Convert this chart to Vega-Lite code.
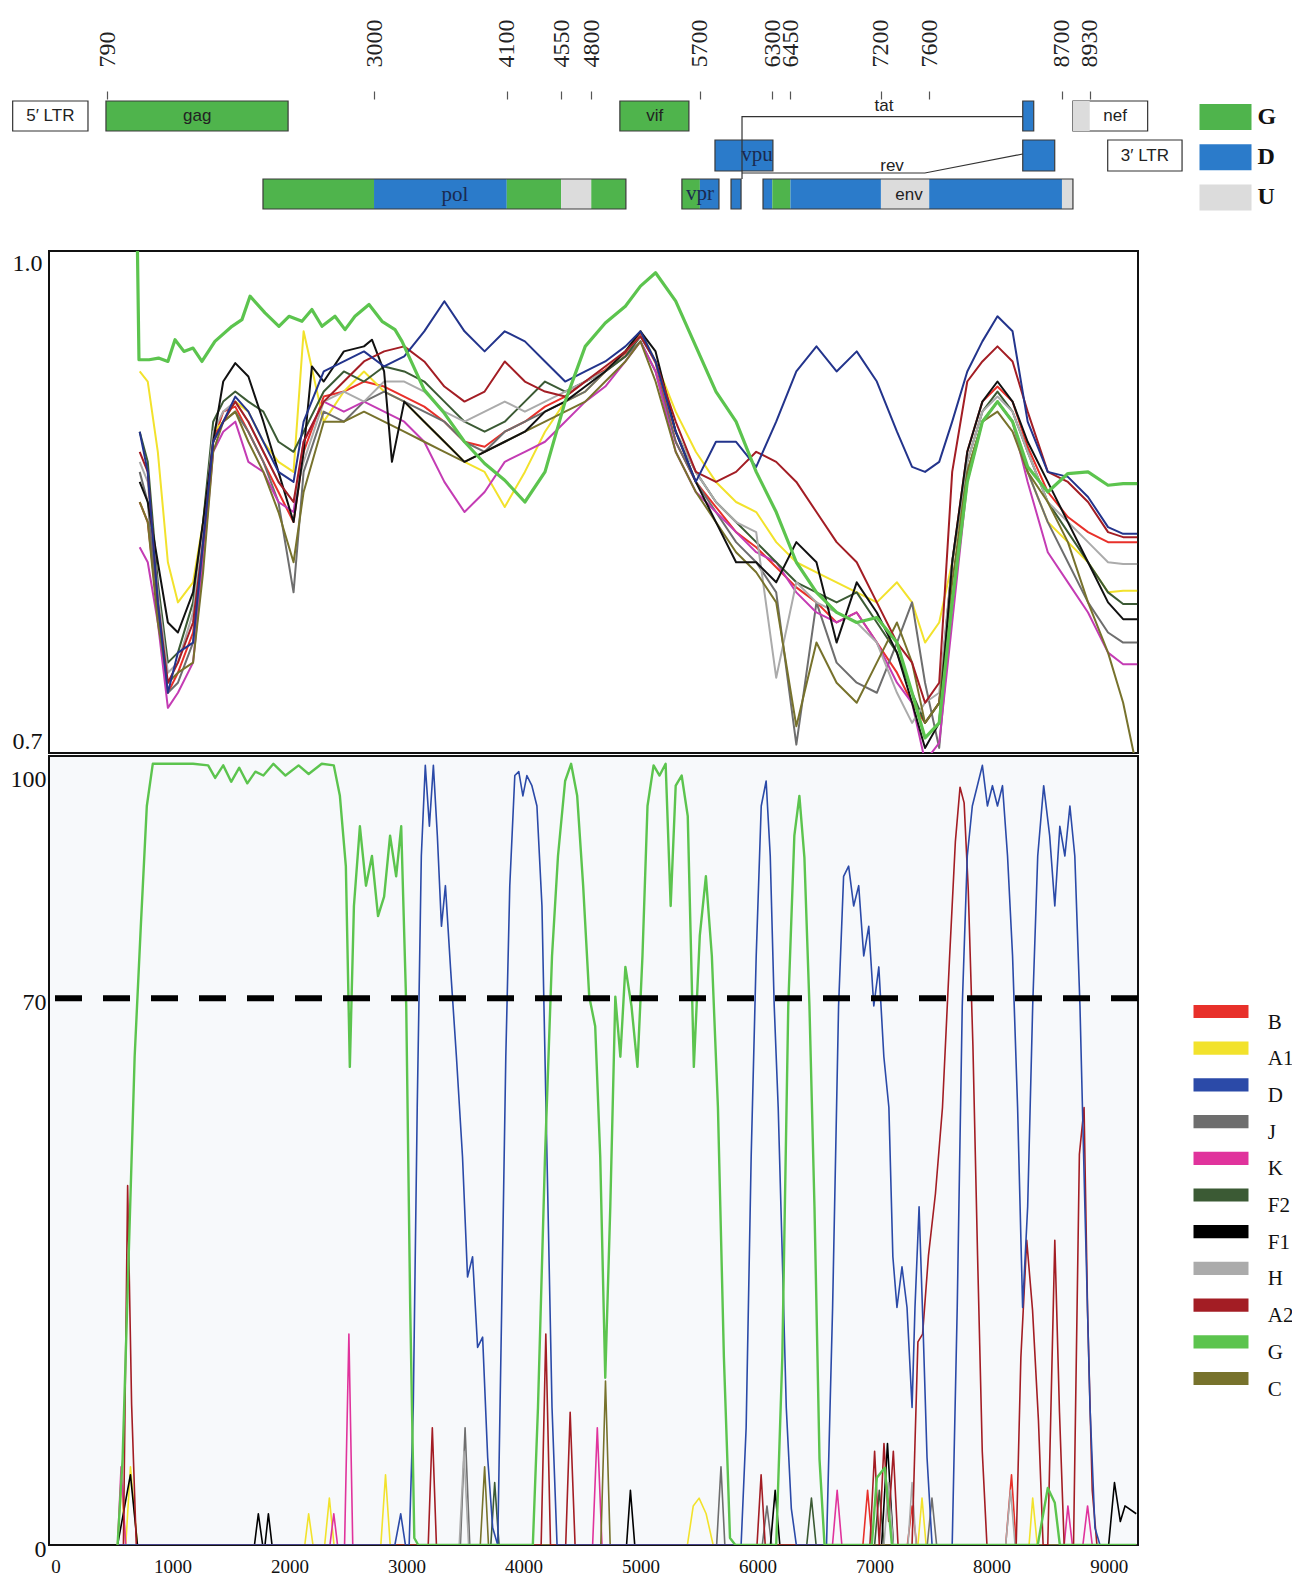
{
"$schema": "https://vega.github.io/schema/vega-lite/v6.json",
"background": "white",
"padding": {"left": 9, "top": 19, "right": 0, "bottom": 0},
"spacing": 0,
"config": {"view": {"stroke": null}, "font": "Liberation Serif", "axis": {"grid": false}},
"resolve": {"scale": {"color": "independent", "fill": "independent"}},
"vconcat": [
{
 "width": 1089, "height": 150,
 "encoding": {
  "x": {"field": "s", "type": "quantitative", "scale": {"domain": [307, 9330], "nice": false, "zero": false},
        "axis": {"orient": "top", "values": [790, 3000, 4100, 4550, 4800, 5700, 6300, 6450, 7200, 7600, 8700, 8930], "format": "d", "labelAngle": 270, "labelAlign": "left", "labelBaseline": "middle", "labelFont": "Liberation Serif", "labelFontSize": 24, "labelColor": "#222", "tickSize": 8, "tickColor": "#555", "tickWidth": 1.2, "domain": false, "labelPadding": 24, "labelOverlap": false, "labelFlush": false, "title": null}},
  "y": {"field": "y0", "type": "quantitative", "scale": {"domain": [0, 150], "reverse": true, "nice": false, "zero": false}, "axis": null}
 },
 "layer": [
  {"data": {"values": [{"s": 6, "e": 630, "y0": 2, "y1": 32}, {"s": 8791, "e": 9410, "y0": 2, "y1": 32}, {"s": 9079, "e": 9695, "y0": 41, "y1": 72}]},
   "mark": {"type": "rect", "fill": "white", "stroke": "#333", "strokeWidth": 1.2},
   "encoding": {"x2": {"field": "e"}, "y2": {"field": "y1"}}},
  {"data": {"values": [
    {"gene": "gag", "seg": "G", "s": 779, "e": 2288, "y0": 2, "y1": 32},
    {"gene": "vif", "seg": "G", "s": 5037, "e": 5609, "y0": 2, "y1": 32},
    {"gene": "tat", "seg": "D", "s": 8375, "e": 8466, "y0": 2, "y1": 32},
    {"gene": "nef", "seg": "U", "s": 8791, "e": 8930, "y0": 2, "y1": 32},
    {"gene": "vpu", "seg": "D", "s": 5825, "e": 6305, "y0": 41, "y1": 72},
    {"gene": "rev", "seg": "D", "s": 8375, "e": 8640, "y0": 41, "y1": 72},
    {"gene": "pol", "seg": "G", "s": 2080, "e": 3000, "y0": 80, "y1": 110},
    {"gene": "pol", "seg": "D", "s": 3000, "e": 4100, "y0": 80, "y1": 110},
    {"gene": "pol", "seg": "G", "s": 4100, "e": 4550, "y0": 80, "y1": 110},
    {"gene": "pol", "seg": "U", "s": 4550, "e": 4800, "y0": 80, "y1": 110},
    {"gene": "pol", "seg": "G", "s": 4800, "e": 5087, "y0": 80, "y1": 110},
    {"gene": "vpr", "seg": "G", "s": 5551, "e": 5700, "y0": 80, "y1": 110},
    {"gene": "vpr", "seg": "D", "s": 5700, "e": 5858, "y0": 80, "y1": 110},
    {"gene": "tat/rev", "seg": "D", "s": 5958, "e": 6041, "y0": 80, "y1": 110},
    {"gene": "env", "seg": "D", "s": 6223, "e": 6300, "y0": 80, "y1": 110},
    {"gene": "env", "seg": "G", "s": 6300, "e": 6450, "y0": 80, "y1": 110},
    {"gene": "env", "seg": "D", "s": 6450, "e": 7200, "y0": 80, "y1": 110},
    {"gene": "env", "seg": "U", "s": 7200, "e": 7600, "y0": 80, "y1": 110},
    {"gene": "env", "seg": "D", "s": 7600, "e": 8700, "y0": 80, "y1": 110},
    {"gene": "env", "seg": "U", "s": 8700, "e": 8791, "y0": 80, "y1": 110}
   ]},
   "mark": {"type": "rect"},
   "encoding": {"x2": {"field": "e"}, "y2": {"field": "y1"},
    "fill": {"field": "seg", "type": "nominal", "scale": {"domain": ["G", "D", "U"], "range": ["#4fb44c", "#2b7bca", "#dcdcdc"]},
      "legend": {"orient": "none", "legendX": 1150.5, "legendY": -8, "direction": "vertical", "title": null, "symbolType": "M-1,-0.5H1V0.5H-1Z", "symbolSize": 2704, "symbolStrokeWidth": 0, "labelFont": "Liberation Serif", "labelFontWeight": "bold", "labelFontSize": 24, "labelColor": "#111", "labelOffset": 6, "rowPadding": 1.2}}}},
  {"data": {"values": [
    {"s": 779, "e": 2288, "y0": 2, "y1": 32}, {"s": 5037, "e": 5609, "y0": 2, "y1": 32}, {"s": 8375, "e": 8466, "y0": 2, "y1": 32},
    {"s": 5825, "e": 6305, "y0": 41, "y1": 72}, {"s": 8375, "e": 8640, "y0": 41, "y1": 72},
    {"s": 2080, "e": 5087, "y0": 80, "y1": 110}, {"s": 5551, "e": 5858, "y0": 80, "y1": 110}, {"s": 5958, "e": 6041, "y0": 80, "y1": 110}, {"s": 6223, "e": 8791, "y0": 80, "y1": 110}
   ]},
   "mark": {"type": "rect", "filled": false, "stroke": "#3a3a3a", "strokeWidth": 1.2},
   "encoding": {"x2": {"field": "e"}, "y2": {"field": "y1"}}},
  {"data": {"values": [
    {"k": "tat", "o": 1, "s": 6049, "y0": 80}, {"k": "tat", "o": 2, "s": 6049, "y0": 17.7}, {"k": "tat", "o": 3, "s": 8375, "y0": 17.7},
    {"k": "rev", "o": 1, "s": 6049, "y0": 74}, {"k": "rev", "o": 2, "s": 7564, "y0": 74}, {"k": "rev", "o": 3, "s": 8375, "y0": 55}
   ]},
   "mark": {"type": "line", "color": "#333", "strokeWidth": 1.2},
   "encoding": {"detail": {"field": "k"}, "order": {"field": "o", "type": "quantitative"}}},
  {"data": {"values": [
    {"t": "gag", "s": 1535, "y0": 17}, {"t": "vif", "s": 5325, "y0": 17}, {"t": "nef", "s": 9140, "y0": 17},
    {"t": "5′ LTR", "s": 318, "y0": 17}, {"t": "3′ LTR", "s": 9387, "y0": 56.5}, {"t": "tat", "s": 7226, "y0": 7},
    {"t": "rev", "s": 7292, "y0": 67}, {"t": "env", "s": 7432, "y0": 96}
   ]},
   "mark": {"type": "text", "font": "Liberation Sans", "fontSize": 17, "color": "#222", "align": "center", "baseline": "middle"},
   "encoding": {"text": {"field": "t"}}},
  {"data": {"values": [{"t": "pol", "s": 3670, "y0": 96}, {"t": "vpu", "s": 6173, "y0": 56}, {"t": "vpr", "s": 5700, "y0": 95}]},
   "mark": {"type": "text", "font": "Liberation Serif", "fontSize": 21, "color": "#1a2a50", "align": "center", "baseline": "middle"},
   "encoding": {"text": {"field": "t"}}}
 ]
},
{
 "width": 1089, "height": 502,
 "view": {"stroke": "#111", "strokeWidth": 2},
 "data": {"values": "p,t,v\n719,B,.850\n788,B,.838\n874,B,.784\n960,B,.736\n1046,B,.748\n1175,B,.772\n1261,B,.820\n1347,B,.886\n1433,B,.904\n1536,B,.907\n1648,B,.892\n1776,B,.874\n1905,B,.856\n2034,B,.838\n2120,B,.880\n2292,B,.913\n2464,B,.916\n2636,B,.922\n2808,B,.919\n2980,B,.913\n3151,B,.907\n3323,B,.898\n3495,B,.886\n3667,B,.883\n3839,B,.892\n4011,B,.898\n4183,B,.907\n4355,B,.913\n4527,B,.922\n4698,B,.929\n4870,B,.939\n4999,B,.951\n5128,B,.933\n5300,B,.886\n5472,B,.862\n5644,B,.847\n5816,B,.832\n5988,B,.823\n6159,B,.811\n6331,B,.799\n6503,B,.790\n6675,B,.778\n6847,B,.784\n7019,B,.766\n7191,B,.748\n7320,B,.730\n7431,B,.718\n7552,B,.730\n7663,B,.814\n7792,B,.880\n7921,B,.910\n8050,B,.919\n8179,B,.910\n8308,B,.883\n8480,B,.856\n8652,B,.841\n8824,B,.832\n8995,B,.826\n9124,B,.826\n9244,B,.826\n719,A1,.928\n788,A1,.922\n874,A1,.880\n960,A1,.814\n1046,A1,.790\n1175,A1,.802\n1261,A1,.838\n1347,A1,.892\n1433,A1,.898\n1536,A1,.910\n1648,A1,.904\n1776,A1,.886\n1905,A1,.874\n2034,A1,.868\n2120,A1,.952\n2292,A1,.898\n2464,A1,.916\n2636,A1,.928\n2808,A1,.916\n2980,A1,.910\n3151,A1,.898\n3323,A1,.886\n3495,A1,.874\n3667,A1,.868\n3839,A1,.847\n4011,A1,.868\n4183,A1,.892\n4355,A1,.910\n4527,A1,.916\n4698,A1,.928\n4870,A1,.940\n4999,A1,.952\n5128,A1,.934\n5300,A1,.904\n5472,A1,.880\n5644,A1,.862\n5816,A1,.850\n5988,A1,.844\n6159,A1,.826\n6331,A1,.814\n6503,A1,.808\n6675,A1,.802\n6847,A1,.796\n7019,A1,.790\n7191,A1,.802\n7320,A1,.790\n7431,A1,.766\n7552,A1,.778\n7663,A1,.814\n7792,A1,.868\n7921,A1,.898\n8050,A1,.910\n8179,A1,.898\n8308,A1,.868\n8480,A1,.838\n8652,A1,.826\n8824,A1,.814\n8995,A1,.796\n9124,A1,.797\n9244,A1,.797\n719,J,.868\n788,J,.850\n874,J,.784\n960,J,.736\n1046,J,.742\n1175,J,.766\n1261,J,.814\n1347,J,.886\n1433,J,.898\n1536,J,.904\n1648,J,.892\n1776,J,.874\n1905,J,.850\n2034,J,.796\n2120,J,.868\n2292,J,.904\n2464,J,.898\n2636,J,.910\n2808,J,.916\n2980,J,.910\n3151,J,.904\n3323,J,.898\n3495,J,.886\n3667,J,.880\n3839,J,.892\n4011,J,.898\n4183,J,.904\n4355,J,.910\n4527,J,.916\n4698,J,.928\n4870,J,.937\n4999,J,.946\n5128,J,.928\n5300,J,.886\n5472,J,.862\n5644,J,.844\n5816,J,.826\n5988,J,.814\n6159,J,.796\n6331,J,.705\n6503,J,.790\n6675,J,.754\n6847,J,.742\n7019,J,.736\n7191,J,.766\n7320,J,.790\n7431,J,.742\n7552,J,.703\n7663,J,.790\n7792,J,.868\n7921,J,.898\n8050,J,.910\n8179,J,.898\n8308,J,.868\n8480,J,.838\n8652,J,.814\n8824,J,.790\n8995,J,.772\n9124,J,.766\n9244,J,.766\n719,K,.823\n788,K,.814\n874,K,.778\n960,K,.727\n1046,K,.736\n1175,K,.754\n1261,K,.814\n1347,K,.880\n1433,K,.892\n1536,K,.898\n1648,K,.874\n1776,K,.868\n1905,K,.850\n2034,K,.844\n2120,K,.886\n2292,K,.910\n2464,K,.904\n2636,K,.910\n2808,K,.904\n2980,K,.898\n3151,K,.886\n3323,K,.862\n3495,K,.844\n3667,K,.856\n3839,K,.874\n4011,K,.880\n4183,K,.886\n4355,K,.898\n4527,K,.910\n4698,K,.919\n4870,K,.934\n4999,K,.946\n5128,K,.928\n5300,K,.880\n5472,K,.856\n5644,K,.844\n5816,K,.832\n5988,K,.820\n6159,K,.814\n6331,K,.796\n6503,K,.784\n6675,K,.778\n6847,K,.784\n7019,K,.766\n7191,K,.742\n7320,K,.730\n7431,K,.695\n7552,K,.706\n7663,K,.778\n7792,K,.862\n7921,K,.898\n8050,K,.910\n8179,K,.898\n8308,K,.862\n8480,K,.820\n8652,K,.802\n8824,K,.784\n8995,K,.760\n9124,K,.753\n9244,K,.753\n719,F2,.892\n788,F2,.874\n874,F2,.802\n960,F2,.754\n1046,F2,.760\n1175,F2,.790\n1261,F2,.838\n1347,F2,.898\n1433,F2,.910\n1536,F2,.916\n1648,F2,.910\n1776,F2,.904\n1905,F2,.886\n2034,F2,.880\n2120,F2,.892\n2292,F2,.916\n2464,F2,.928\n2636,F2,.922\n2808,F2,.931\n2980,F2,.928\n3151,F2,.922\n3323,F2,.910\n3495,F2,.898\n3667,F2,.892\n3839,F2,.898\n4011,F2,.910\n4183,F2,.922\n4355,F2,.916\n4527,F2,.922\n4698,F2,.928\n4870,F2,.937\n4999,F2,.949\n5128,F2,.934\n5300,F2,.892\n5472,F2,.868\n5644,F2,.850\n5816,F2,.838\n5988,F2,.826\n6159,F2,.814\n6331,F2,.802\n6503,F2,.796\n6675,F2,.790\n6847,F2,.796\n7019,F2,.778\n7191,F2,.760\n7320,F2,.736\n7431,F2,.718\n7552,F2,.730\n7663,F2,.814\n7792,F2,.874\n7921,F2,.904\n8050,F2,.916\n8179,F2,.904\n8308,F2,.880\n8480,F2,.850\n8652,F2,.832\n8824,F2,.814\n8995,F2,.796\n9124,F2,.789\n9244,F2,.789\n719,H,.874\n788,H,.862\n874,H,.796\n960,H,.748\n1046,H,.754\n1175,H,.784\n1261,H,.832\n1347,H,.892\n1433,H,.904\n1536,H,.910\n1648,H,.898\n1776,H,.880\n1905,H,.862\n2034,H,.850\n2120,H,.874\n2292,H,.910\n2464,H,.916\n2636,H,.910\n2808,H,.922\n2980,H,.922\n3151,H,.916\n3323,H,.904\n3495,H,.898\n3667,H,.904\n3839,H,.910\n4011,H,.904\n4183,H,.910\n4355,H,.916\n4527,H,.922\n4698,H,.928\n4870,H,.940\n4999,H,.949\n5128,H,.934\n5300,H,.892\n5472,H,.868\n5644,H,.850\n5816,H,.838\n5988,H,.832\n6159,H,.745\n6331,H,.802\n6503,H,.790\n6675,H,.784\n6847,H,.778\n7019,H,.766\n7191,H,.736\n7320,H,.718\n7431,H,.730\n7552,H,.736\n7663,H,.814\n7792,H,.874\n7921,H,.904\n8050,H,.913\n8179,H,.904\n8308,H,.880\n8480,H,.850\n8652,H,.838\n8824,H,.826\n8995,H,.814\n9124,H,.813\n9244,H,.813\n719,C,.850\n788,C,.838\n874,C,.778\n960,C,.742\n1046,C,.748\n1175,C,.754\n1261,C,.808\n1347,C,.880\n1433,C,.898\n1536,C,.904\n1648,C,.886\n1776,C,.868\n1905,C,.844\n2034,C,.814\n2120,C,.856\n2292,C,.898\n2464,C,.898\n2636,C,.904\n2808,C,.898\n2980,C,.892\n3151,C,.886\n3323,C,.880\n3495,C,.874\n3667,C,.880\n3839,C,.886\n4011,C,.892\n4183,C,.898\n4355,C,.904\n4527,C,.910\n4698,C,.922\n4870,C,.934\n4999,C,.946\n5128,C,.922\n5300,C,.880\n5472,C,.856\n5644,C,.838\n5816,C,.820\n5988,C,.808\n6159,C,.790\n6331,C,.716\n6503,C,.766\n6675,C,.742\n6847,C,.730\n7019,C,.754\n7191,C,.778\n7320,C,.754\n7431,C,.718\n7552,C,.730\n7663,C,.802\n7792,C,.868\n7921,C,.898\n8050,C,.904\n8179,C,.892\n8308,C,.868\n8480,C,.850\n8652,C,.826\n8824,C,.790\n8995,C,.760\n9124,C,.730\n9244,C,.690\n719,F1,.862\n788,F1,.850\n874,F1,.814\n960,F1,.778\n1046,F1,.772\n1175,F1,.796\n1261,F1,.838\n1347,F1,.886\n1433,F1,.922\n1536,F1,.933\n1648,F1,.925\n1776,F1,.898\n1905,F1,.868\n2034,F1,.838\n2120,F1,.880\n2191,F1,.931\n2292,F1,.922\n2464,F1,.940\n2636,F1,.943\n2704,F1,.947\n2808,F1,.928\n2875,F1,.874\n2980,F1,.910\n3151,F1,.898\n3323,F1,.886\n3495,F1,.874\n3667,F1,.880\n3839,F1,.886\n4011,F1,.892\n4183,F1,.904\n4355,F1,.910\n4527,F1,.919\n4698,F1,.928\n4870,F1,.940\n4999,F1,.952\n5128,F1,.940\n5300,F1,.892\n5472,F1,.862\n5644,F1,.838\n5816,F1,.814\n5988,F1,.814\n6159,F1,.802\n6331,F1,.826\n6503,F1,.814\n6675,F1,.766\n6847,F1,.802\n7019,F1,.784\n7191,F1,.760\n7320,F1,.730\n7431,F1,.703\n7552,F1,.718\n7663,F1,.814\n7792,F1,.880\n7921,F1,.910\n8050,F1,.922\n8179,F1,.910\n8308,F1,.886\n8480,F1,.862\n8652,F1,.838\n8824,F1,.814\n8995,F1,.790\n9124,F1,.780\n9244,F1,.780\n719,A2,.880\n788,A2,.868\n874,A2,.790\n960,A2,.742\n1046,A2,.754\n1175,A2,.778\n1261,A2,.826\n1347,A2,.886\n1433,A2,.898\n1536,A2,.910\n1648,A2,.898\n1776,A2,.880\n1905,A2,.862\n2034,A2,.850\n2120,A2,.886\n2292,A2,.910\n2464,A2,.922\n2636,A2,.934\n2808,A2,.940\n2980,A2,.943\n3151,A2,.934\n3323,A2,.919\n3495,A2,.910\n3667,A2,.916\n3839,A2,.934\n4011,A2,.922\n4183,A2,.916\n4355,A2,.913\n4527,A2,.922\n4698,A2,.931\n4870,A2,.940\n4999,A2,.949\n5128,A2,.934\n5300,A2,.898\n5472,A2,.868\n5644,A2,.862\n5816,A2,.868\n5988,A2,.880\n6159,A2,.874\n6331,A2,.862\n6503,A2,.844\n6675,A2,.826\n6847,A2,.814\n7019,A2,.790\n7191,A2,.766\n7320,A2,.754\n7431,A2,.730\n7552,A2,.742\n7663,A2,.868\n7792,A2,.922\n7921,A2,.934\n8050,A2,.943\n8179,A2,.934\n8308,A2,.904\n8480,A2,.868\n8652,A2,.862\n8824,A2,.850\n8995,A2,.832\n9124,A2,.829\n9244,A2,.829\n719,D,.892\n788,D,.868\n874,D,.790\n960,D,.736\n1046,D,.760\n1175,D,.766\n1261,D,.826\n1347,D,.886\n1433,D,.898\n1536,D,.913\n1648,D,.904\n1776,D,.886\n1905,D,.868\n2034,D,.862\n2120,D,.898\n2292,D,.928\n2464,D,.934\n2636,D,.940\n2808,D,.931\n2980,D,.937\n3151,D,.952\n3323,D,.970\n3495,D,.952\n3667,D,.940\n3839,D,.952\n4011,D,.946\n4183,D,.934\n4355,D,.922\n4527,D,.928\n4698,D,.934\n4870,D,.943\n4999,D,.952\n5128,D,.934\n5300,D,.892\n5472,D,.862\n5644,D,.886\n5816,D,.886\n5988,D,.871\n6159,D,.898\n6331,D,.928\n6503,D,.943\n6675,D,.928\n6847,D,.940\n7019,D,.922\n7191,D,.892\n7320,D,.871\n7431,D,.868\n7552,D,.874\n7663,D,.898\n7792,D,.928\n7921,D,.946\n8050,D,.961\n8179,D,.952\n8308,D,.898\n8480,D,.868\n8652,D,.865\n8824,D,.853\n8995,D,.835\n9124,D,.831\n9244,D,.831\n700,G,1.0\n713,G,.935\n800,G,.935\n880,G,.936\n960,G,.934\n1021,G,.947\n1097,G,.940\n1175,G,.942\n1251,G,.934\n1362,G,.946\n1508,G,.955\n1593,G,.959\n1662,G,.973\n1790,G,.963\n1909,G,.955\n1995,G,.961\n2106,G,.958\n2191,G,.965\n2277,G,.955\n2388,G,.961\n2474,G,.953\n2559,G,.961\n2679,G,.968\n2790,G,.958\n2901,G,.953\n2961,G,.946\n3151,G,.917\n3323,G,.903\n3495,G,.886\n3667,G,.873\n3839,G,.863\n4011,G,.850\n4183,G,.868\n4355,G,.910\n4527,G,.943\n4698,G,.957\n4870,G,.967\n4999,G,.979\n5128,G,.987\n5300,G,.970\n5472,G,.943\n5644,G,.916\n5816,G,.898\n5988,G,.868\n6159,G,.844\n6331,G,.814\n6503,G,.796\n6675,G,.784\n6847,G,.778\n7019,G,.781\n7191,G,.766\n7320,G,.736\n7431,G,.709\n7552,G,.718\n7663,G,.790\n7792,G,.862\n7921,G,.898\n8050,G,.910\n8179,G,.898\n8308,G,.871\n8480,G,.856\n8652,G,.867\n8824,G,.868\n8995,G,.860\n9124,G,.861\n9244,G,.861", "format": {"type": "csv", "parse": {"p": "number", "v": "number"}}},
 "mark": {"type": "line", "clip": true, "strokeJoin": "round"},
 "encoding": {
  "x": {"field": "p", "type": "quantitative", "scale": {"domain": [-56, 9251], "nice": false, "zero": false}, "axis": null},
  "y": {"field": "v", "type": "quantitative", "scale": {"domain": [0.7, 1.0], "nice": false, "zero": false},
        "axis": {"values": [0.7, 1.0], "format": ".1f", "labelFlush": true, "tickSize": 0, "domain": false, "labelFont": "Liberation Serif", "labelFontSize": 24, "labelColor": "#111", "labelPadding": 7, "title": null}},
  "color": {"field": "t", "type": "nominal", "scale": {"domain": ["B", "A1", "D", "J", "K", "F2", "F1", "H", "A2", "G", "C"], "range": ["#e8302a", "#f2e22c", "#23348c", "#6e6e6e", "#c43cb4", "#3b5a34", "#111111", "#ababab", "#a31d24", "#5cc44e", "#77722c"]}, "legend": null},
  "strokeWidth": {"condition": {"test": "datum.t === 'G'", "value": 3.2}, "value": 2}
 }
},
{
 "width": 1089, "height": 789,
 "view": {"stroke": "#111", "strokeWidth": 2, "fill": "#f7f9fb"},
 "layer": [
  {"data": {"values": "p,t,v\n530,B,0\n6900,B,0\n6940,B,7\n6980,B,0\n7280,B,0\n7320,B,5\n7360,B,0\n8120,B,0\n8170,B,9\n8210,B,0\n9236,B,0\n530,A1,0\n560,A1,8\n600,A1,0\n640,A1,10\n700,A1,0\n2130,A1,0\n2163,A1,4\n2200,A1,0\n2300,A1,0\n2340,A1,6\n2380,A1,0\n2780,A1,0\n2820,A1,9\n2860,A1,0\n5400,A1,0\n5450,A1,5\n5500,A1,6\n5560,A1,4\n5620,A1,0\n7370,A1,0\n7405,A1,6\n7440,A1,0\n8320,A1,0\n8351,A1,6\n8390,A1,0\n9236,A1,0\n530,J,0\n3460,J,0\n3500,J,15\n3540,J,0\n5650,J,0\n5687,J,10\n5720,J,0\n6040,J,0\n6080,J,5\n6120,J,0\n7450,J,0\n7490,J,6\n7530,J,0\n9236,J,0\n530,K,0\n560,K,10\n600,K,0\n2345,K,0\n2378,K,4\n2410,K,0\n2470,K,0\n2507,K,27\n2540,K,0\n4590,K,0\n4630,K,15\n4670,K,0\n6640,K,0\n6680,K,7\n6720,K,0\n8620,K,0\n8652,K,5\n8690,K,0\n8780,K,0\n8820,K,5\n8860,K,0\n9236,K,0\n530,F2,0\n3720,F2,0\n3753,F2,8\n3790,F2,0\n6420,F2,0\n6460,F2,6\n6500,F2,0\n7000,F2,0\n7040,F2,7\n7080,F2,0\n9236,F2,0\n530,F1,0\n640,F1,9\n700,F1,0\n1700,F1,0\n1733,F1,4\n1770,F1,0\n1790,F1,0\n1819,F1,4\n1850,F1,0\n4880,F1,0\n4913,F1,7\n4950,F1,0\n6110,F1,0\n6150,F1,7\n6190,F1,0\n7060,F1,0\n7110,F1,13\n7160,F1,0\n9000,F1,0\n9050,F1,8\n9100,F1,3\n9140,F1,5\n9236,F1,4\n530,H,0\n3450,H,0\n3490,H,12\n3530,H,0\n7080,H,0\n7120,H,8\n7160,H,0\n7285,H,0\n7320,H,8\n7355,H,0\n8120,H,0\n8162,H,7\n8200,H,0\n9236,H,0\n530,C,0\n3630,C,0\n3667,C,10\n3700,C,0\n4660,C,0\n4700,C,21\n4740,C,0\n9236,C,0\n530,A2,0\n580,A2,0\n616,A2,46\n650,A2,18\n690,A2,0\n3185,A2,0\n3220,A2,15\n3255,A2,0\n4150,A2,0\n4190,A2,27\n4230,A2,0\n4360,A2,0\n4398,A2,17\n4440,A2,0\n5995,A2,0\n6030,A2,9\n6065,A2,0\n6960,A2,0\n7000,A2,12\n7040,A2,0\n7080,A2,13\n7120,A2,3\n7160,A2,12\n7200,A2,0\n7320,A2,0\n7370,A2,26\n7410,A2,27\n7460,A2,37\n7520,A2,45\n7580,A2,56\n7640,A2,75\n7690,A2,90\n7730,A2,97\n7765,A2,95\n7800,A2,84\n7840,A2,64\n7880,A2,37\n7920,A2,12\n7960,A2,0\n8210,A2,0\n8250,A2,24\n8300,A2,39\n8350,A2,30\n8400,A2,16\n8440,A2,0\n8480,A2,0\n8540,A2,39\n8580,A2,17\n8620,A2,0\n8700,A2,0\n8750,A2,50\n8790,A2,56\n8820,A2,30\n8860,A2,7\n8900,A2,0\n9236,A2,0\n530,D,0\n2900,D,0\n2950,D,4\n2990,D,0\n3022,D,0\n3057,D,17.6\n3091,D,56\n3126,D,88.2\n3160,D,99.8\n3195,D,92\n3229,D,99.8\n3263,D,90.8\n3298,D,79.2\n3332,D,84.4\n3375,D,74\n3426,D,62.5\n3478,D,49.7\n3521,D,34.3\n3564,D,36.9\n3607,D,25.3\n3650,D,26.6\n3693,D,11.2\n3736,D,2.2\n3779,D,0\n3813,D,30.4\n3848,D,62.5\n3882,D,84.4\n3925,D,98.5\n3959,D,99\n3994,D,95.9\n4028,D,98.5\n4071,D,97.2\n4114,D,94.6\n4157,D,81.8\n4200,D,49.7\n4243,D,17.6\n4286,D,0\n5859,D,0\n5902,D,15\n5945,D,49.7\n5988,D,75.4\n6031,D,94.6\n6073,D,97.8\n6108,D,88.2\n6142,D,69\n6176,D,56\n6211,D,36.9\n6245,D,17.6\n6288,D,4.7\n6331,D,0\n6589,D,0\n6641,D,30.4\n6692,D,69\n6735,D,85.6\n6778,D,86.9\n6821,D,81.8\n6864,D,84.4\n6907,D,75.4\n6950,D,79.2\n6993,D,69\n7036,D,74\n7079,D,62.5\n7122,D,56\n7156,D,36.9\n7191,D,30.4\n7234,D,35.6\n7277,D,30.4\n7320,D,17.6\n7345,D,30.4\n7380,D,43.3\n7414,D,27.9\n7448,D,11.2\n7491,D,0\n7663,D,0\n7706,D,30.4\n7749,D,69\n7792,D,88.2\n7835,D,94.6\n7878,D,97.2\n7921,D,99.8\n7964,D,94.6\n8007,D,97.2\n8050,D,94.6\n8093,D,97.2\n8136,D,88.2\n8179,D,75.4\n8222,D,56\n8265,D,30.4\n8308,D,43.3\n8351,D,69\n8394,D,88.2\n8445,D,97.2\n8496,D,90.8\n8540,D,81.8\n8583,D,92\n8626,D,88.2\n8669,D,94.6\n8711,D,88.2\n8755,D,69\n8797,D,43.3\n8841,D,17.6\n8883,D,2.2\n8926,D,0\n9236,D,0\n530,G,0\n573,G,11\n625,G,37\n676,G,62.5\n728,G,79\n780,G,94.6\n831,G,100\n1003,G,100\n1175,G,100\n1304,G,99.8\n1364,G,98.2\n1433,G,99.8\n1501,G,97.7\n1570,G,99.5\n1639,G,97.5\n1708,G,99\n1776,G,98.5\n1862,G,100\n1965,G,98.5\n2077,G,99.8\n2163,G,98.7\n2275,G,100\n2378,G,99.8\n2430,G,95.9\n2481,G,86.9\n2515,G,61.2\n2550,G,81.8\n2601,G,92\n2653,G,84.4\n2704,G,88.2\n2756,G,80.5\n2808,G,83\n2859,G,90.8\n2911,G,85.6\n2954,G,92\n2997,G,69\n3031,G,30.4\n3066,G,0.9\n3100,G,0\n4079,G,0\n4123,G,17.6\n4183,G,49.7\n4243,G,75.4\n4294,G,88.2\n4355,G,97.8\n4406,G,100\n4458,G,95.9\n4509,G,84.4\n4561,G,70.2\n4612,G,66.4\n4655,G,49.7\n4698,G,21.4\n4741,G,43.3\n4784,G,70.2\n4827,G,62.5\n4870,G,74\n4922,G,69\n4973,G,61.2\n5016,G,75.4\n5059,G,94.6\n5111,G,99.8\n5162,G,98.5\n5214,G,100\n5257,G,81.8\n5300,G,97.2\n5351,G,98.5\n5403,G,93.3\n5455,G,61.2\n5506,G,78\n5558,G,85.6\n5609,G,75.4\n5661,G,56\n5712,G,24\n5764,G,0.9\n5810,G,0\n6159,G,0\n6211,G,24\n6262,G,69\n6314,G,90.8\n6357,G,95.9\n6400,G,88\n6443,G,69\n6486,G,43.3\n6529,G,11\n6572,G,0\n6976,G,0\n7019,G,8.6\n7087,G,9.9\n7148,G,0\n8394,G,0\n8480,G,7.3\n8540,G,5.4\n8583,G,0\n9236,G,0", "format": {"type": "csv", "parse": {"p": "number", "v": "number"}}},
   "mark": {"type": "line", "clip": true, "strokeJoin": "round"},
   "encoding": {
    "x": {"field": "p", "type": "quantitative", "scale": {"domain": [-56, 9251], "nice": false, "zero": false},
          "axis": {"orient": "bottom", "values": [0, 1000, 2000, 3000, 4000, 5000, 6000, 7000, 8000, 9000], "format": "d", "tickSize": 0, "domain": false, "labelFont": "Liberation Serif", "labelFontSize": 19, "labelColor": "#111", "labelPadding": 12, "title": null}},
    "y": {"field": "v", "type": "quantitative", "scale": {"domain": [0, 101], "nice": false, "zero": false},
          "axis": {"values": [0, 70, 100], "tickSize": 0, "domain": false, "labelFont": "Liberation Serif", "labelFontSize": 24, "labelColor": "#111", "labelPadding": 3, "labelOffset": {"condition": {"test": "datum.value === 100", "value": 16}, "value": 4}, "title": null}},
    "color": {"field": "t", "type": "nominal", "scale": {"range": ["#f2e22c", "#a31d24", "#e8302a", "#77722c", "#2b4aa8", "#000000", "#3b5a34", "#5cc44e", "#ababab", "#6e6e6e", "#e0339c"]}, "legend": null},
    "strokeWidth": {"condition": {"test": "datum.t === 'G'", "value": 2.4}, "value": 1.6}
   }},
  {"data": {"values": [{}]},
   "mark": {"type": "rule", "strokeDash": [27, 21], "strokeWidth": 6, "color": "#000"},
   "encoding": {"y": {"datum": 70}}},
  {"data": {"values": [{"t": "B"}]},
   "mark": {"type": "rect"},
   "encoding": {
    "x": {"datum": 0}, "x2": {"datum": 0}, "y": {"datum": 0}, "y2": {"datum": 0},
    "fill": {"field": "t", "type": "nominal", "scale": {"domain": ["B", "A1", "D", "J", "K", "F2", "F1", "H", "A2", "G", "C"], "range": ["#e8302a", "#f2e22c", "#2b4aa8", "#6e6e6e", "#e0339c", "#3b5a34", "#000000", "#ababab", "#a31d24", "#5cc44e", "#77722c"]},
      "legend": {"orient": "none", "legendX": 1158, "legendY": 241.5, "direction": "vertical", "title": null, "symbolType": "M-2,-0.48H2V0.48H-2Z", "symbolSize": 756, "symbolStrokeWidth": 0, "labelFont": "Liberation Serif", "labelFontSize": 21, "labelColor": "#111", "labelBaseline": "top", "labelOffset": 32.75, "rowPadding": 1.7}}
   }}
 ]
}
]
}
